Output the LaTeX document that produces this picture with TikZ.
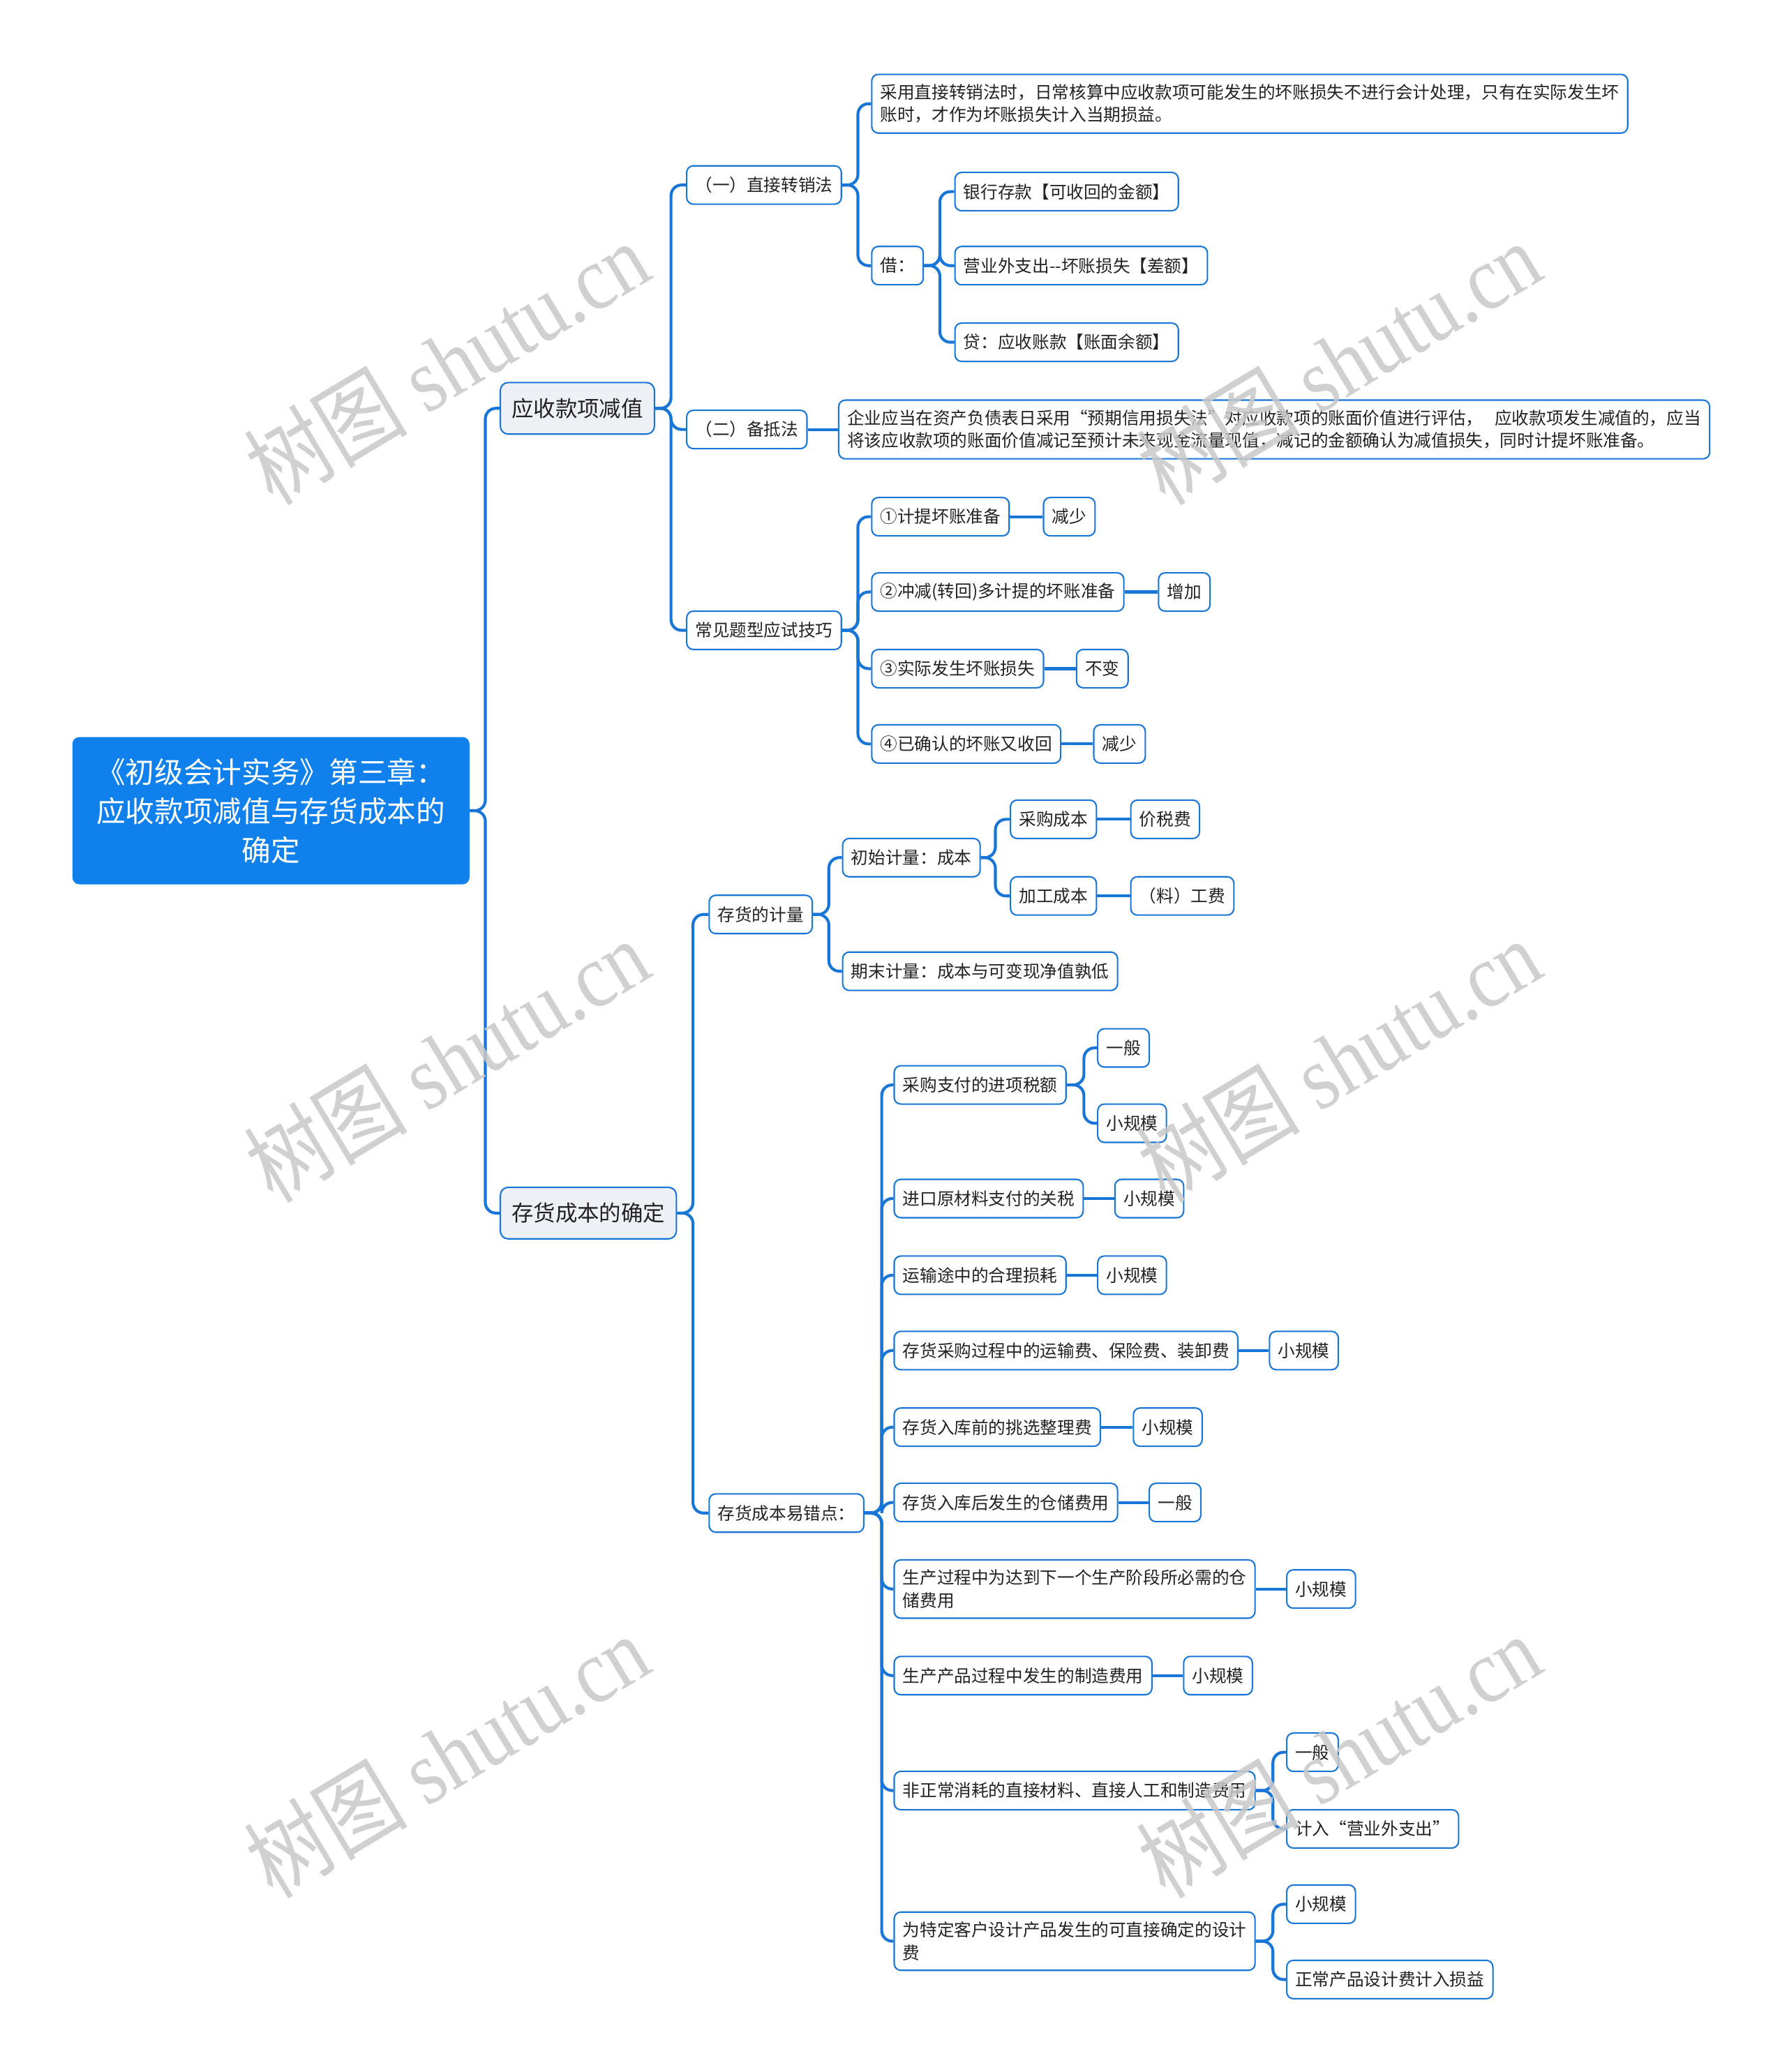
\documentclass[tikz,border=0pt]{standalone}
\usepackage{fontspec}
\newfontfamily\cjkfont{Noto Sans CJK SC}
\newfontfamily\markfont{Liberation Serif}
\usetikzlibrary{positioning}
\definecolor{rootblue}{RGB}{16,128,236}
\definecolor{lineblue}{RGB}{26,118,214}
\definecolor{topicfill}{RGB}{237,241,246}
\definecolor{textgray}{RGB}{34,34,34}
\definecolor{markgray}{RGB}{200,200,200}
\tikzset{
  rootnode/.style={
    draw=rootblue,
    fill=rootblue,
    text=white,
    rounded corners=5pt,
    align=center,
    minimum width=300,
    minimum height=111,
    font=\cjkfont\fontsize{22}{29.5}\selectfont
  },
  topic/.style={
    draw=lineblue,
    fill=topicfill,
    line width=1.1pt,
    rounded corners=6pt,
    text=textgray,
    inner xsep=8.5pt,
    minimum height=39,
    font=\cjkfont\fontsize{16.6}{20}\selectfont
  },
  item/.style={
    draw=lineblue,
    fill=white,
    line width=1.1pt,
    rounded corners=5pt,
    align=left,
    text=textgray,
    inner xsep=6.5pt,
    inner ysep=7.5pt,
    minimum height=29,
    font=\cjkfont\fontsize{13}{17}\selectfont
  },
  link/.style={draw=lineblue,line width=2.2pt,rounded corners=8pt},
  watermark/.style={
    rotate=31,
    text=markgray,
    opacity=0.85,
    yscale=1.15,
    font=\markfont\fontsize{60}{60}\selectfont
  }
}

\begin{document}
\begin{tikzpicture}[x=1pt,y=-1pt]
  \useasboundingbox (0,0) rectangle (1352,1568);

  \node[rootnode] at (205,613.5) (root) {《初级会计实务》第三章：\\应收款项减值与存货成本的\\确定};

  % first branch
  \node[topic,anchor=west] at (378,309) (recv) {应收款项减值};
  \node[item,anchor=west] at (519,140) (direct) {（一）直接转销法};
  \node[item,anchor=west] at (519,325) (allow) {（二）备抵法};
  \node[item,anchor=west] at (519,477) (tips) {常见题型应试技巧};

  \node[item,anchor=west] at (659,78.5) (directnote) {采用直接转销法时，日常核算中应收款项可能发生的坏账损失不进行会计处理，只有在实际发生坏\\账时，才作为坏账损失计入当期损益。};
  \node[item,anchor=west] at (659,201) (debit) {借：};
  \node[item,anchor=west] at (722,145) (bank) {银行存款【可收回的金额】};
  \node[item,anchor=west] at (722,201) (loss) {营业外支出--坏账损失【差额】};
  \node[item,anchor=west] at (722,259) (credit) {贷：应收账款【账面余额】};

  \node[item,anchor=west] at (634,325) (allownote) {企业应当在资产负债表日采用“预期信用损失法”对应收款项的账面价值进行评估，\hspace{9pt}应收款项发生减值的，应当\\将该应收款项的账面价值减记至预计未来现金流量现值，减记的金额确认为减值损失，同时计提坏账准备。};

  \node[item,anchor=west] at (659,391) (tip1) {①计提坏账准备};
  \node[item,anchor=west] at (659,448) (tip2) {②冲减(转回)多计提的坏账准备};
  \node[item,anchor=west] at (659,506) (tip3) {③实际发生坏账损失};
  \node[item,anchor=west] at (659,563) (tip4) {④已确认的坏账又收回};
  \node[item,anchor=west] at (789,391) (res1) {减少};
  \node[item,anchor=west] at (876,448) (res2) {增加};
  \node[item,anchor=west] at (814,506) (res3) {不变};
  \node[item,anchor=west] at (827,563) (res4) {减少};

  % second branch
  \node[topic,anchor=west] at (378,918) (stock) {存货成本的确定};
  \node[item,anchor=west] at (536,692) (measure) {存货的计量};
  \node[item,anchor=west] at (536,1145) (pitfall) {存货成本易错点：};

  \node[item,anchor=west] at (637,649) (initial) {初始计量：成本};
  \node[item,anchor=west] at (637,735) (ending) {期末计量：成本与可变现净值孰低};
  \node[item,anchor=west] at (764,620) (buycost) {采购成本};
  \node[item,anchor=west] at (764,678) (procost) {加工成本};
  \node[item,anchor=west] at (855,620) (taxfee) {价税费};
  \node[item,anchor=west] at (855,678) (labfee) {（料）工费};

  \node[item,anchor=west] at (676,821) (err1) {采购支付的进项税额};
  \node[item,anchor=west] at (830,793) (err1a) {一般};
  \node[item,anchor=west] at (830,850) (err1b) {小规模};
  \node[item,anchor=west] at (676,907) (err2) {进口原材料支付的关税};
  \node[item,anchor=west] at (843,907) (err2a) {小规模};
  \node[item,anchor=west] at (676,965) (err3) {运输途中的合理损耗};
  \node[item,anchor=west] at (830,965) (err3a) {小规模};
  \node[item,anchor=west] at (676,1022) (err4) {存货采购过程中的运输费、保险费、装卸费};
  \node[item,anchor=west] at (960,1022) (err4a) {小规模};
  \node[item,anchor=west] at (676,1080) (err5) {存货入库前的挑选整理费};
  \node[item,anchor=west] at (857,1080) (err5a) {小规模};
  \node[item,anchor=west] at (676,1137) (err6) {存货入库后发生的仓储费用};
  \node[item,anchor=west] at (869,1137) (err6a) {一般};
  \node[item,anchor=west] at (676,1202.5) (err7) {生产过程中为达到下一个生产阶段所必需的仓\\储费用};
  \node[item,anchor=west] at (973,1202.5) (err7a) {小规模};
  \node[item,anchor=west] at (676,1268) (err8) {生产产品过程中发生的制造费用};
  \node[item,anchor=west] at (895,1268) (err8a) {小规模};
  \node[item,anchor=west] at (676,1355) (err9) {非正常消耗的直接材料、直接人工和制造费用};
  \node[item,anchor=west] at (973,1326) (err9a) {一般};
  \node[item,anchor=west] at (973,1384) (err9b) {计入“营业外支出”};
  \node[item,anchor=west] at (676,1469) (err10) {为特定客户设计产品发生的可直接确定的设计\\费};
  \node[item,anchor=west] at (973,1441) (err10a) {小规模};
  \node[item,anchor=west] at (973,1498) (err10b) {正常产品设计费计入损益};

  % connectors
  \foreach \kid in {recv,stock}
    \draw[link] (root.east) -- ++(12,0) |- (\kid.west);
  \foreach \kid in {direct,allow,tips}
    \draw[link] (recv.east) -- ++(12,0) |- (\kid.west);
  \foreach \kid in {directnote,debit}
    \draw[link] (direct.east) -- ++(12,0) |- (\kid.west);
  \foreach \kid in {bank,loss,credit}
    \draw[link] (debit.east) -- ++(12,0) |- (\kid.west);
  \draw[link] (allow) -- (allownote);
  \foreach \kid in {tip1,tip2,tip3,tip4}
    \draw[link] (tips.east) -- ++(12,0) |- (\kid.west);
  \foreach \a/\b in {tip1/res1,tip2/res2,tip3/res3,tip4/res4}
    \draw[link] (\a) -- (\b);

  \foreach \kid in {measure,pitfall}
    \draw[link] (stock.east) -- ++(12,0) |- (\kid.west);
  \foreach \kid in {initial,ending}
    \draw[link] (measure.east) -- ++(12,0) |- (\kid.west);
  \foreach \kid in {buycost,procost}
    \draw[link] (initial.east) -- ++(11,0) |- (\kid.west);
  \draw[link] (buycost) -- (taxfee);
  \draw[link] (procost) -- (labfee);

  \foreach \kid in {err1,err2,err3,err4,err5,err6,err7,err8,err9,err10}
    \draw[link] (pitfall.east) -- ++(13,0) |- (\kid.west);
  \foreach \kid in {err1a,err1b}
    \draw[link] (err1.east) -- ++(13,0) |- (\kid.west);
  \foreach \a/\b in {err2/err2a,err3/err3a,err4/err4a,err5/err5a,err6/err6a,err7/err7a,err8/err8a}
    \draw[link] (\a) -- (\b);
  \foreach \kid in {err9a,err9b}
    \draw[link] (err9.east) -- ++(13,0) |- (\kid.west);
  \foreach \kid in {err10a,err10b}
    \draw[link] (err10.east) -- ++(13,0) |- (\kid.west);

  % watermarks
  \foreach \wx/\wy [count=\i] in {338/274,1013/274,338/802,1013/802,338/1328,1013/1328}
    \node[watermark] at (\wx,\wy) (mark\i) {{\cjkfont 树图} shutu.cn};

\end{tikzpicture}
\end{document}
